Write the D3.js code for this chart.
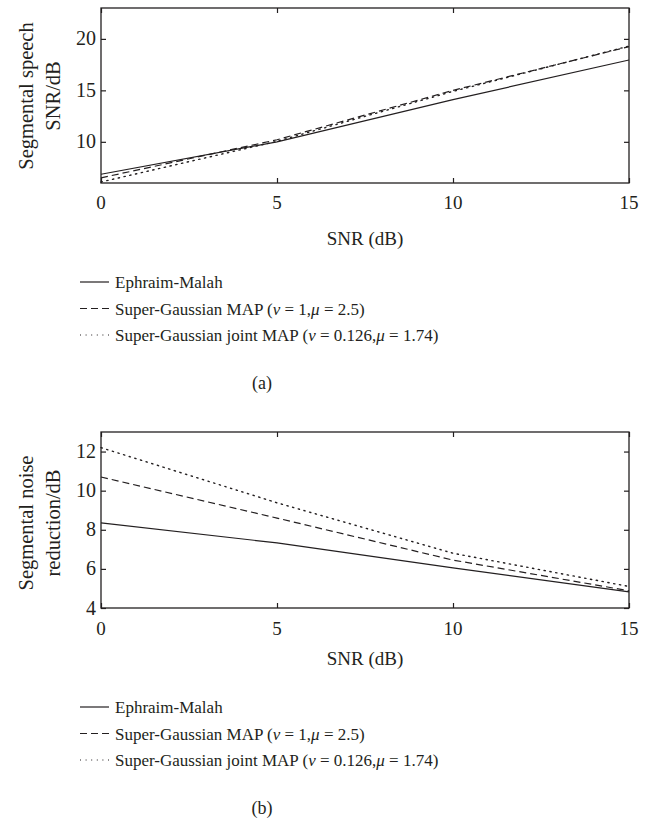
<!DOCTYPE html>
<html>
<head>
<meta charset="utf-8">
<script src="https://cdn.jsdelivr.net/npm/d3@7"></script>
<style>
  body { margin: 0; background: #fff; }
  svg text { font-family: "Liberation Serif", "Times New Roman", serif; fill: #231f20; }
</style>
</head>
<body>
<div id="chart"></div>
<script>
// x values (SNR in dB)
var snr = [0, 5, 10, 15];

// (a) segmental speech SNR
var segSnrEM = [6.85, 10.0, 14.1, 17.95];
var segSnrMAP = [6.5, 10.2, 15.0, 19.25];
var segSnrJoint = [6.1, 10.05, 14.9, 19.3];

// (b) segmental noise reduction
var nrEM = [8.35, 7.33, 6.05, 4.82];
var nrMAP = [10.7, 8.6, 6.45, 4.88];
var nrJoint = [12.2, 9.38, 6.8, 5.1];

var xTicks = [0, 5, 10, 15];
var yTicksA = [10, 15, 20];
var yTicksB = [4, 6, 8, 10, 12];

var legendNames = ['Ephraim-Malah', 'Super-Gaussian MAP', 'Super-Gaussian joint MAP'];
var legendParams = [null, ['1', '2.5'], ['0.126', '1.74']];
var dashes = ['none', '7,4', '1.3,4.6'];
var legendDashes = ['none', '7,4', '1,4.6'];

var W = 652, H = 819;
var svg = d3.select('#chart').append('svg').attr('width', W).attr('height', H);

var x = d3.scaleLinear().domain([0, 15]).range([101, 629]);

function panel(top, bottom, yDomain, yTicks, series, yLabel, labelY, xLabBase, titleBase, legBase, capBase, cap) {
  var y = d3.scaleLinear().domain(yDomain).range([bottom, top]);
  var g = svg.append('g');

  var line = d3.line().x(function(d){ return x(d[0]); }).y(function(d){ return y(d[1]); });

  series.forEach(function(s, i){
    g.append('path')
      .datum(snr.map(function(v, k){ return [v, s[k]]; }))
      .attr('d', line)
      .attr('fill', 'none')
      .attr('stroke', '#231f20')
      .attr('stroke-width', i == 2 ? 1.4 : 1.2)
      .attr('stroke-linecap', i == 2 ? 'round' : 'butt')
      .attr('stroke-dasharray', dashes[i]);
  });

  // inward ticks on all four sides
  var bx = g.append('g').attr('transform', 'translate(0,' + bottom + ')')
    .call(d3.axisBottom(x).tickValues(xTicks).tickSize(-5).tickPadding(0).tickFormat(''));
  var tx = g.append('g').attr('transform', 'translate(0,' + top + ')')
    .call(d3.axisTop(x).tickValues(xTicks).tickSize(-5).tickFormat(''));
  var ly = g.append('g').attr('transform', 'translate(101,0)')
    .call(d3.axisLeft(y).tickValues(yTicks).tickSize(-5).tickFormat(''));
  var ry = g.append('g').attr('transform', 'translate(629,0)')
    .call(d3.axisRight(y).tickValues(yTicks).tickSize(-5).tickFormat(''));
  [bx, tx, ly, ry].forEach(function(a){
    a.select('.domain').remove();
    a.selectAll('line').attr('stroke', '#231f20').attr('stroke-width', 1.2);
  });

  g.append('rect')
    .attr('x', 101).attr('y', top)
    .attr('width', 528).attr('height', bottom - top)
    .attr('fill', 'none').attr('stroke', '#231f20').attr('stroke-width', 1.3);

  g.selectAll('.xl').data(xTicks).enter().append('text')
    .attr('x', function(d){ return x(d); }).attr('y', xLabBase)
    .attr('text-anchor', 'middle').attr('font-size', 19)
    .text(function(d){ return d; });

  g.selectAll('.yl').data(yTicks).enter().append('text')
    .attr('x', 96).attr('y', function(d){ return y(d); })
    .attr('dy', '0.33em')
    .attr('text-anchor', 'end').attr('font-size', 20)
    .text(function(d){ return d; });

  g.append('text').attr('x', 365).attr('y', titleBase)
    .attr('text-anchor', 'middle').attr('font-size', 19).text('SNR (dB)');

  var yl = g.append('text')
    .attr('transform', 'translate(33,' + labelY + ') rotate(-90)')
    .attr('text-anchor', 'middle').attr('font-size', 20.5);
  yl.append('tspan').attr('x', 0).attr('dy', 0).text(yLabel[0]);
  yl.append('tspan').attr('x', 0).attr('dy', 27).text(yLabel[1]);

  // legend
  legendNames.forEach(function(name, i){
    var by = legBase + i * 26.5;
    g.append('line')
      .attr('x1', 80).attr('x2', 109)
      .attr('y1', by - 6).attr('y2', by - 6)
      .attr('stroke', '#231f20')
      .attr('stroke-width', i == 2 ? 1 : 1.2)
      .attr('stroke-dasharray', legendDashes[i]);
    var t = g.append('text').attr('x', 115).attr('y', by).attr('font-size', 17);
    t.append('tspan').text(name);
    var p = legendParams[i];
    if (p) {
      t.append('tspan').text(' (');
      t.append('tspan').attr('font-style', 'italic').text('ν');
      t.append('tspan').text(' = ' + p[0] + ',');
      t.append('tspan').attr('font-style', 'italic').text('μ');
      t.append('tspan').text(' = ' + p[1] + ')');
    }
  });

  g.append('text').attr('x', 262).attr('y', capBase)
    .attr('text-anchor', 'middle').attr('font-size', 18).text(cap);
}

panel(8, 183, [6, 23], yTicksA, [segSnrEM, segSnrMAP, segSnrJoint],
  ['Segmental speech', 'SNR/dB'], 96, 209, 245, 288, 389, '(a)');

panel(432, 608, [4, 13], yTicksB, [nrEM, nrMAP, nrJoint],
  ['Segmental noise', 'reduction/dB'], 523, 635, 665, 713, 814, '(b)');
</script>
</body>
</html>
